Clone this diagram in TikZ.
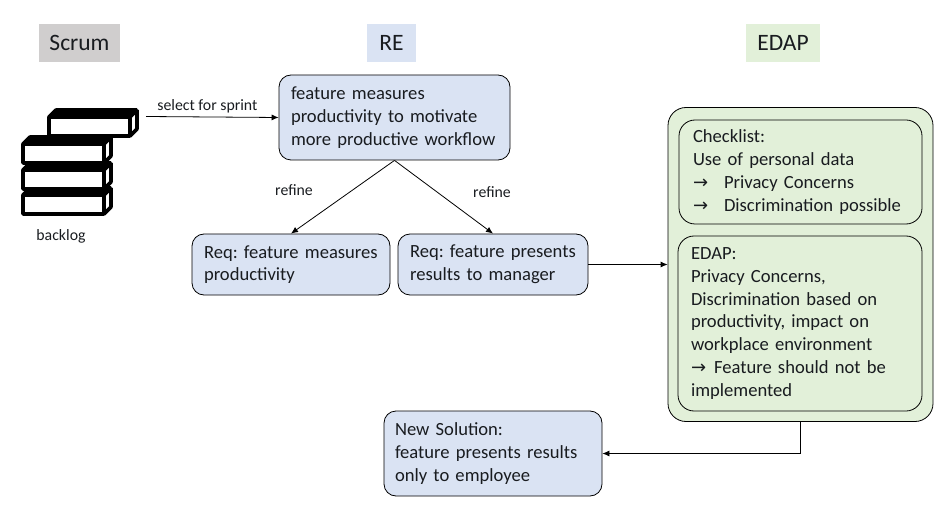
\documentclass[tikz,border=0pt]{standalone}
\usepackage{fontspec}
\setmainfont{Carlito}
\newfontfamily\arrowfont{DejaVu Sans}
\usetikzlibrary{
  arrows.meta,
  positioning,
  calc
}
\definecolor{softblue}{HTML}{DAE3F3}
\definecolor{softgreen}{HTML}{E2F0D9}
\definecolor{softgray}{HTML}{D0CECE}
\definecolor{darkgray}{RGB}{25,28,32}
\newcommand{\mapsymbol}[1]{\makebox[#1][l]{\arrowfont\fontsize{18}{22.7}\selectfont →}}

\begin{document}
\begin{tikzpicture}[x=1pt, y=-1pt,
    every node/.style={text=darkgray, font=\fontsize{18.6}{22.7}\selectfont\frenchspacing},
    heading/.style={inner sep=0pt, minimum height=38pt, font=\fontsize{23.5}{25}\selectfont},
    stepbox/.style={draw=black, line width=.8pt, fill=softblue, rounded corners=12pt, inner sep=0pt, align=left, minimum height=#1},
    stepbox/.default=61pt,
    edapbox/.style={draw=black, line width=.8pt, fill=softgreen, rounded corners=#1, inner sep=0pt, align=left},
    edapbox/.default=16pt,
    small/.style={inner sep=1pt, font=\fontsize{15.8}{18}\selectfont},
    flow/.style={draw=black, line width=.8pt, -{Latex[length=7pt,width=6pt]}},
    pics/block/.style={code={
      \draw[line width=3.6pt, fill=white, line join=bevel] (0,0) rectangle (81,19);
      \draw[line width=3.6pt, fill=black, line join=bevel] (0,0) -- (7,-7) -- (88,-7) -- (81,0) -- cycle;
      \draw[line width=3.6pt, fill=white, line join=bevel] (81,0) -- (88,-7) -- (88,12) -- (81,19) -- cycle;
    }}]
  \useasboundingbox (0,0) rectangle (949,518);

  % column headings
  \node[heading, fill=softgray, minimum width=81pt] (scrum) at (79.5,43) {Scrum};
  \node[heading, fill=softblue, minimum width=49pt] (re) at (391.5,43) {RE};
  \node[heading, fill=softgreen, minimum width=74pt] (edap) at (783,43) {EDAP};

  % backlog
  \foreach \bx/\by in {23/195, 23/170, 23/144, 49/117}
    \pic at (\bx,\by) {block};
  \node[small] (backlog) at (61,236) {backlog};
  \coordinate (sprint) at (146,116.5);

  % RE boxes
  \node[stepbox=85pt, minimum width=231pt, text width=207pt] (feature) at (394.5,117.5)
    {feature measures\\productivity to motivate\\more productive workflow};
  \node[stepbox, minimum width=198pt, text width=174pt] (reqone) at (291,264.5)
    {Req: feature measures\\productivity};
  \node[stepbox, minimum width=190pt, text width=166pt] (reqtwo) at (493,264.5)
    {Req: feature presents\\results to manager};
  \node[stepbox=85pt, minimum width=218pt, text width=196pt] (newsol) at (493,453.5)
    {New Solution:\\feature presents results\\only to employee};

  % EDAP boxes
  \node[edapbox=18pt, minimum width=265pt, minimum height=314pt] (outer) at (800.5,264.5) {};
  \node[edapbox, minimum width=243pt, minimum height=104pt, text width=215pt] (checklist) at (800.5,172)
    {Checklist:\\Use of personal data\\\mapsymbol{31pt}Privacy Concerns\\\mapsymbol{31pt}Discrimination possible};
  \node[edapbox, minimum width=244pt, minimum height=175pt, text width=218pt] (review) at (800,323.5)
    {EDAP:\\Privacy Concerns,\\Discrimination based on\\productivity, impact on\\workplace environment\\\mapsymbol{23pt}Feature should not be\\implemented};

  % connectors
  \draw[flow] (sprint) -- node[small, above=2.5pt, pos=.463] (select) {select for sprint} (feature.west);
  \draw[flow] (feature.south) -- (reqone.north);
  \draw[flow] (feature.south) -- (reqtwo.north);
  \node[small] (refineone) at (294,190) {refine};
  \node[small] (refinetwo) at (492,192) {refine};
  \draw[flow] (reqtwo.east) -- (outer.west);
  \draw[flow] (outer.south) |- (newsol.east);
\end{tikzpicture}
\end{document}
